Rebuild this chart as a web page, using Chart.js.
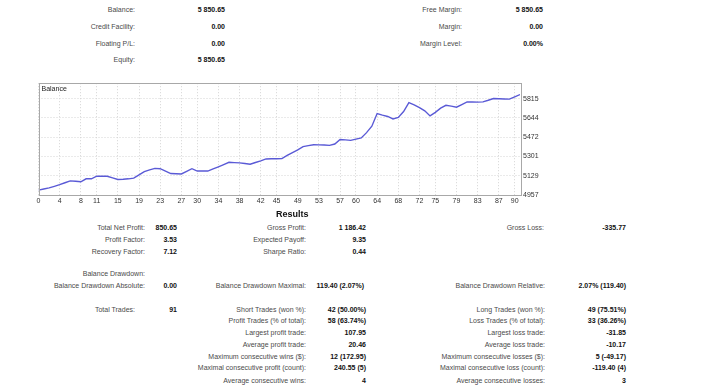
<!DOCTYPE html>
<html>
<head>
<meta charset="utf-8">
<script src="https://cdn.jsdelivr.net/npm/chart.js@4.4.1/dist/chart.umd.min.js"></script>
<style>
  html, body { margin: 0; padding: 0; background: #fff; }
  body { width: 720px; height: 392px; position: relative; overflow: hidden;
         font-family: "Liberation Sans", Arial, sans-serif; font-size: 7px; }
  .t { position: absolute; white-space: nowrap; line-height: 10px; }
  .lb { color: #4a4a4a; }
  .v { color: #111; font-weight: bold; }
  .hd { color: #111; font-weight: bold; font-size: 9px; }
  #chart-box { position: absolute; left: 0; top: 76px; width: 560px; height: 134px; }
</style>
</head>
<body>
<div id="chart-box"><canvas id="myChart"></canvas></div>
<script>
// balance after each trade (trade 0 = deposit)
const trades = [];
for (let i = 0; i <= 91; i++) trades.push(i);
const balance = [
  5000, 5010, 5020, 5034, 5049, 5066, 5083, 5080, 5075, 5101,
  5101, 5124, 5125, 5124, 5110, 5095, 5097, 5101, 5107, 5136,
  5165, 5180, 5194, 5191, 5170, 5148, 5146, 5144, 5168, 5191,
  5170, 5171, 5170, 5189, 5208, 5228, 5248, 5245, 5243, 5237,
  5231, 5246, 5260, 5278, 5279, 5280, 5281, 5309, 5334, 5358,
  5387, 5396, 5404, 5403, 5402, 5399, 5411, 5451, 5448, 5443,
  5454, 5465, 5512, 5569, 5682, 5668, 5656, 5634, 5648, 5700,
  5780, 5760, 5735, 5706, 5661, 5692, 5730, 5755, 5748, 5738,
  5762, 5786, 5785, 5784, 5786, 5800, 5816, 5814, 5812, 5810,
  5830, 5851
];
const xTicks = [0, 4, 8, 11, 15, 19, 23, 27, 30, 34, 38, 42, 45, 49, 53, 57, 60, 64, 68, 72, 75, 79, 83, 87, 90];
const yTicks = [4957, 5129, 5301, 5472, 5644, 5815];

// report text: [text, right edge x, centre y, class]
const summary = [
  ["Balance:", 135, 10, "lb"], ["5 850.65", 225, 10, "v"],
  ["Credit Facility:", 135, 27, "lb"], ["0.00", 225, 27, "v"],
  ["Floating P/L:", 135, 43.5, "lb"], ["0.00", 225, 43.5, "v"],
  ["Equity:", 135, 60, "lb"], ["5 850.65", 225, 60, "v"],
  ["Free Margin:", 462, 10, "lb"], ["5 850.65", 543, 10, "v"],
  ["Margin:", 462, 27, "lb"], ["0.00", 543, 27, "v"],
  ["Margin Level:", 462, 43.5, "lb"], ["0.00%", 543, 43.5, "v"]
];
const results = [
  ["Total Net Profit:", 145, 227.5, "lb"], ["850.65", 177, 227.5, "v"],
  ["Profit Factor:", 145, 239.5, "lb"], ["3.53", 177, 239.5, "v"],
  ["Recovery Factor:", 145, 251.5, "lb"], ["7.12", 177, 251.5, "v"],
  ["Gross Profit:", 306, 227.5, "lb"], ["1 186.42", 366, 227.5, "v"],
  ["Expected Payoff:", 306, 239.5, "lb"], ["9.35", 366, 239.5, "v"],
  ["Sharpe Ratio:", 306, 251.5, "lb"], ["0.44", 366, 251.5, "v"],
  ["Gross Loss:", 544, 227.5, "lb"], ["-335.77", 626, 227.5, "v"],
  ["Balance Drawdown:", 145, 273.5, "lb"],
  ["Balance Drawdown Absolute:", 145, 286, "lb"], ["0.00", 177, 286, "v"],
  ["Balance Drawdown Maximal:", 306, 286, "lb"], ["119.40 (2.07%)", 364, 286, "v"],
  ["Balance Drawdown Relative:", 545, 286, "lb"], ["2.07% (119.40)", 626, 286, "v"]
];
const tradeRows = [
  ["Total Trades:", 135, 309.5, "lb"], ["91", 177, 309.5, "v"],
  ["Short Trades (won %):", 306, 309.5, "lb"], ["42 (50.00%)", 366, 309.5, "v"],
  ["Profit Trades (% of total):", 306, 321.3, "lb"], ["58 (63.74%)", 366, 321.3, "v"],
  ["Largest profit trade:", 306, 333, "lb"], ["107.95", 366, 333, "v"],
  ["Average profit trade:", 306, 344.8, "lb"], ["20.46", 366, 344.8, "v"],
  ["Maximum consecutive wins ($):", 306, 356.5, "lb"], ["12 (172.95)", 366, 356.5, "v"],
  ["Maximal consecutive profit (count):", 306, 368.3, "lb"], ["240.55 (5)", 366, 368.3, "v"],
  ["Average consecutive wins:", 306, 380.5, "lb"], ["4", 366, 380.5, "v"],
  ["Long Trades (won %):", 545, 309.5, "lb"], ["49 (75.51%)", 626, 309.5, "v"],
  ["Loss Trades (% of total):", 545, 321.3, "lb"], ["33 (36.26%)", 626, 321.3, "v"],
  ["Largest loss trade:", 545, 333, "lb"], ["-31.85", 626, 333, "v"],
  ["Average loss trade:", 545, 344.8, "lb"], ["-10.17", 626, 344.8, "v"],
  ["Maximum consecutive losses ($):", 545, 356.5, "lb"], ["5 (-49.17)", 626, 356.5, "v"],
  ["Maximal consecutive loss (count):", 545, 368.3, "lb"], ["-119.40 (4)", 626, 368.3, "v"],
  ["Average consecutive losses:", 545, 380.5, "lb"], ["3", 626, 380.5, "v"]
];

function placeText(rows) {
  rows.forEach(function (r) {
    const d = document.createElement("div");
    d.className = "t " + r[3];
    d.textContent = r[0];
    d.style.right = (720 - r[1]) + "px";
    d.style.top = (r[2] - 5) + "px";
    document.body.appendChild(d);
  });
}
placeText(summary);
placeText(results);
placeText(tradeRows);

const head = document.createElement("div");
head.className = "t hd";
head.textContent = "Results";
head.style.left = "276px";
head.style.top = "209px";
document.body.appendChild(head);

// frame + "Balance" caption inside plot
const framePlugin = {
  id: "frame",
  afterDraw(chart) {
    const a = chart.chartArea, c = chart.ctx;
    c.save();
    c.strokeStyle = "#a8a8a8";
    c.lineWidth = 1;
    c.strokeRect(Math.round(a.left) + 0.5, Math.round(a.top) + 0.5,
                 Math.round(a.right - a.left), Math.round(a.bottom - a.top));
    c.fillStyle = "#222";
    c.font = "7px 'Liberation Sans', Arial, sans-serif";
    c.textBaseline = "middle";
    c.fillText("Balance", a.left + 3, a.top + 5.5);
    c.restore();
  }
};

const ctx = document.getElementById("myChart");
const myChart = new Chart(ctx, {
  type: "line",
  data: {
    labels: trades,
    datasets: [{
      data: balance.map((b, i) => ({ x: trades[i], y: b })),
      borderColor: "#5a5ad6",
      borderWidth: 1.4,
      pointRadius: 0,
      tension: 0,
      fill: false
    }]
  },
  options: {
    responsive: true,
    maintainAspectRatio: false,
    animation: false,
    layout: { padding: { left: 38.5, top: 6, right: 0, bottom: 0 } },
    plugins: { legend: { display: false }, tooltip: { enabled: false } },
    scales: {
      x: {
        type: "linear",
        min: 0,
        max: 91,
        afterBuildTicks: (s) => { s.ticks = xTicks.map(v => ({ value: v })); },
        afterFit: (s) => { s.height = 15; },
        grid: { color: "#d4d4d4", tickLength: 0, drawTicks: false },
        border: { display: false, dash: [1, 2] },
        ticks: { color: "#333", font: { size: 7, family: "'Liberation Sans', Arial" }, padding: 2, maxRotation: 0, autoSkip: false,
                 callback: (v) => String(v) }
      },
      y: {
        position: "right",
        min: 4957,
        max: 5952,
        afterBuildTicks: (s) => { s.ticks = yTicks.map(v => ({ value: v })); },
        afterFit: (s) => { s.width = 40; },
        grid: { color: "#d4d4d4", drawTicks: false },
        border: { display: false, dash: [1, 2] },
        ticks: { color: "#333", font: { size: 7, family: "'Liberation Sans', Arial" }, padding: 3,
                 callback: (v) => String(v) }
      }
    }
  },
  plugins: [framePlugin]
});
</script>
</body>
</html>
